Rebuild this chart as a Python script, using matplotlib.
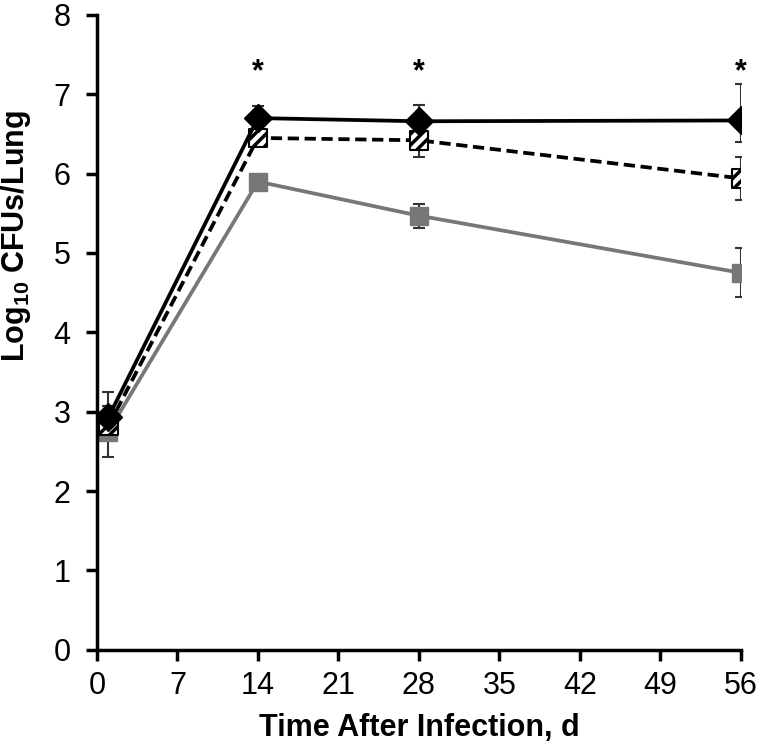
import matplotlib
matplotlib.use("Agg")
import matplotlib.pyplot as plt

plt.rcParams['font.family'] = ['Liberation Sans', 'DejaVu Sans']
plt.rcParams['mathtext.fontset'] = 'custom'
plt.rcParams['mathtext.rm'] = 'Liberation Sans:bold'
plt.rcParams['mathtext.bf'] = 'Liberation Sans:bold'
plt.rcParams['mathtext.it'] = 'Liberation Sans:bold'
plt.rcParams['hatch.linewidth'] = 2.5

days = [1, 14, 28, 56]

black_vals = [2.93, 6.70, 6.66, 6.67]
black_err_lo = [0.10, 0.08, 0.10, 0.27]
black_err_hi = [0.32, 0.15, 0.21, 0.46]

hatch_vals = [2.82, 6.45, 6.42, 5.94]
hatch_err = [0.10, 0.07, 0.21, 0.27]

gray_vals = [2.75, 5.90, 5.47, 4.75]
gray_err = [0.32, 0.06, 0.15, 0.31]

star_days = [14, 28, 56]
star_y = 7.28

xticks = [0, 7, 14, 21, 28, 35, 42, 49, 56]
yticks = [0, 1, 2, 3, 4, 5, 6, 7, 8]

fig = plt.figure(figsize=(7.63, 7.46), dpi=100)
ax = fig.add_axes([0.127, 0.129, 0.844, 0.851])

gray = '#777777'
ecol = '#333333'
# gray series
ax.errorbar(days, gray_vals, yerr=gray_err, color=gray, lw=2.7, marker='s',
            ms=13, mfc=gray, mec=gray, ecolor=ecol, elinewidth=1.5,
            capsize=4.5, capthick=1.5, zorder=2)
# hatched series
ax.errorbar(days, hatch_vals, yerr=hatch_err, color='black', lw=2.7, ls=(0, (3, 1.5)),
            marker=None, ecolor=ecol, elinewidth=1.5, capsize=4.5, capthick=1.5, zorder=3)
ax.scatter(days, hatch_vals, marker='s', s=180, facecolor='white', edgecolor='black',
           hatch='///', linewidths=1.5, zorder=4)
# black series
ax.errorbar(days, black_vals, yerr=[black_err_lo, black_err_hi], color='black', lw=2.7,
            marker='D', ms=14, mfc='black', mec='black', ecolor=ecol,
            elinewidth=1.5, capsize=4.5, capthick=1.5, zorder=5)

for d in star_days:
    ax.text(d, star_y, '*', ha='center', va='center', fontsize=22, fontweight='bold')

ax.set_xlim(0, 56)
ax.set_ylim(0, 8)
ax.set_xticks(xticks)
ax.set_yticks(yticks)
ax.tick_params(axis='both', labelsize=22, width=2.5, length=8, direction='out')
ax.tick_params(axis='x', pad=7)
ax.tick_params(axis='y', pad=11)
for s in ['top', 'right']:
    ax.spines[s].set_visible(False)
for s in ['left', 'bottom']:
    ax.spines[s].set_linewidth(2.5)
ax.spines['left'].set_zorder(10)

ax.set_xlabel('Time After Infection, d', fontsize=22, fontweight='bold', labelpad=9)
ax.set_ylabel(r'$\mathbf{Log_{10}}$ CFUs/Lung', fontsize=22, fontweight='bold')
ax.yaxis.set_label_coords(-0.100, 0.652)

fig.savefig('out.png', dpi=100)
